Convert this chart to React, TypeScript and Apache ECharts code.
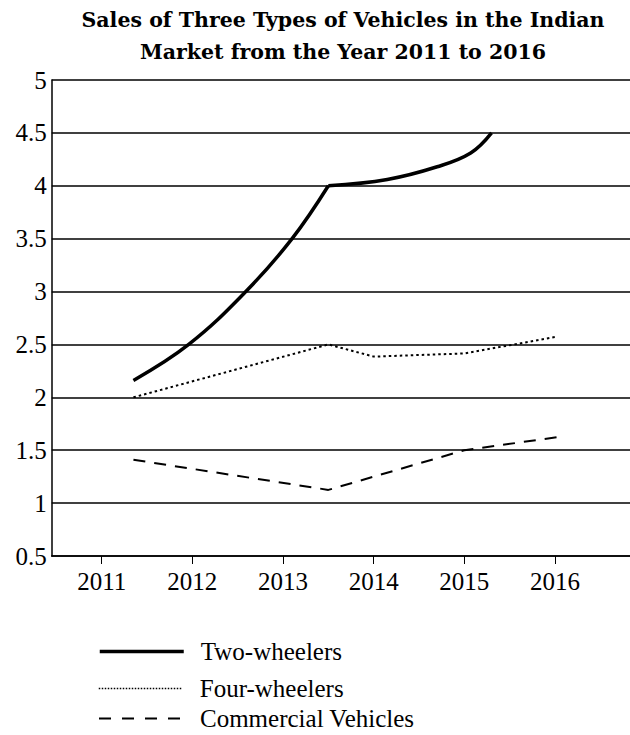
import React, { useEffect, useRef } from "react";
import * as echarts from "echarts";

const titleText = "Sales of Three Types of Vehicles in the Indian\nMarket from the Year 2011 to 2016";
const years = [2011, 2012, 2013, 2014, 2015, 2016];
const seriesNames = ["Two-wheelers", "Four-wheelers", "Commercial Vehicles"];

// Two-wheelers (two smooth pieces meeting at a corner)
const twoWheelersRise: number[][] = [
  [2011.35, 2.16],
  [2011.96, 2.5],
  [2012.59, 3.0],
  [2013.1, 3.5],
  [2013.5, 4.0],
];
const twoWheelersFlat: number[][] = [
  [2013.5, 4.0],
  [2014.15, 4.06],
  [2014.7, 4.18],
  [2015.07, 4.31],
  [2015.3, 4.5],
];
const fourWheelers: number[][] = [
  [2011.35, 2.0],
  [2013.5, 2.5],
  [2014.0, 2.385],
  [2015.0, 2.415],
  [2016.0, 2.57],
];
const commercialVehicles: number[][] = [
  [2011.35, 1.41],
  [2013.5, 1.125],
  [2015.0, 1.5],
  [2016.08, 1.63],
];

const SERIF = "'Liberation Serif', 'Times New Roman', serif";

export default function App() {
  const ref = useRef<HTMLDivElement>(null);
  useEffect(() => {
    if (!ref.current) return;
    const chart = echarts.init(ref.current, null, { renderer: "svg" });
    const legendBase = {
      orient: "vertical",
      left: 98,
      padding: 0,
      itemWidth: 84,
      itemHeight: 14,
      selectedMode: false,
      itemStyle: { opacity: 0, borderWidth: 0 },
      textStyle: {
        fontFamily: SERIF,
        fontSize: 25,
        color: "#000",
        padding: [0, 0, 0, 12],
      },
    };
    chart.setOption({
      animation: false,
      backgroundColor: "#fff",
      title: {
        text: titleText,
        left: 338,
        top: -1,
        textAlign: "center",
        textStyle: {
          fontFamily: "'DejaVu Serif', serif",
          fontWeight: "bold",
          fontSize: 20.5,
          lineHeight: 32,
          color: "#000",
        },
      },
      legend: [
        { ...legendBase, top: 639, data: [seriesNames[0]], lineStyle: { width: 3.5, type: "solid" } },
        { ...legendBase, top: 676, data: [seriesNames[1]], lineStyle: { width: 1.5, type: [1.5, 1.5] } },
        { ...legendBase, top: 706, data: [seriesNames[2]], lineStyle: { width: 2, type: [12, 11] } },
      ],
      grid: { left: 51.7, right: 0, top: 80, bottom: 179, containLabel: false },
      xAxis: {
        type: "value",
        min: 2010.4485,
        max: 2016.827,
        axisLine: { show: true, onZero: false, lineStyle: { color: "#000", width: 1.5 } },
        axisTick: { show: true, length: 8, customValues: years, lineStyle: { color: "#000", width: 1 } },
        axisLabel: {
          customValues: years,
          formatter: (v: number) => String(v),
          fontFamily: SERIF,
          fontSize: 25,
          color: "#000",
          margin: 13,
        },
        splitLine: { show: false },
      },
      yAxis: {
        type: "value",
        min: 0.5,
        max: 5,
        interval: 0.5,
        axisLine: { show: true, lineStyle: { color: "#000", width: 1.5 } },
        axisTick: { show: false },
        axisLabel: {
          fontFamily: SERIF,
          fontSize: 25,
          color: "#000",
          margin: 5,
        },
        splitLine: { show: true, lineStyle: { color: "#000", width: 1.5 } },
      },
      series: [
        {
          name: seriesNames[0],
          type: "line",
          data: twoWheelersRise,
          smooth: 0.4,
          symbol: "none",
          lineStyle: { color: "#000", width: 3.5, type: "solid" },
          itemStyle: { color: "#000" },
        },
        {
          name: seriesNames[0],
          type: "line",
          data: twoWheelersFlat,
          smooth: 0.4,
          symbol: "none",
          lineStyle: { color: "#000", width: 3.5, type: "solid" },
          itemStyle: { color: "#000" },
        },
        {
          name: seriesNames[1],
          type: "line",
          data: fourWheelers,
          symbol: "none",
          lineStyle: { color: "#000", width: 2, type: [2.5, 3] },
          itemStyle: { color: "#000" },
        },
        {
          name: seriesNames[2],
          type: "line",
          data: commercialVehicles,
          symbol: "none",
          lineStyle: { color: "#000", width: 2, type: [12, 9] },
          itemStyle: { color: "#000" },
        },
      ],
    });
    return () => chart.dispose();
  }, []);
  return (
    <div
      ref={ref}
      style={{ position: "absolute", left: 0, top: 0, width: 630, height: 735, background: "#fff" }}
    />
  );
}
